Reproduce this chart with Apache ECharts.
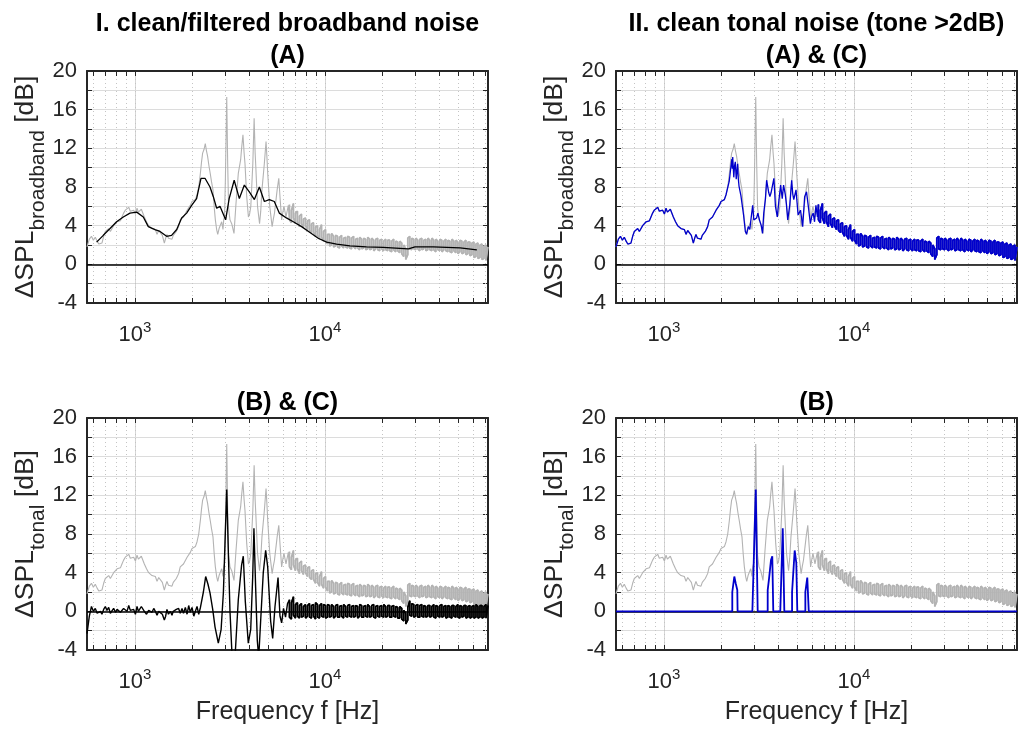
<!DOCTYPE html>
<html><head><meta charset="utf-8">
<script src="https://cdn.jsdelivr.net/npm/echarts@6/dist/echarts.min.js"></script>
<style>html,body{margin:0;padding:0;background:#fff}#c{width:1019px;height:729px}</style>
</head><body><div id="c"></div>
<script>
// ---------------- data (frequency in Hz, level in dB) ----------------
const xRangeHz = [559, 72100];
const yRange = [-4, 20];
const majorTickHz = [1000, 10000];
const minorTickHz = [600, 700, 800, 900, 2000, 3000, 4000, 5000, 6000, 7000, 8000, 9000,
  20000, 30000, 40000, 50000, 60000, 70000];
const panelTitles = ['I. clean/filtered broadband noise\n(A)', 'II. clean tonal noise (tone >2dB)\n(A) & (C)', '(B) & (C)', '(B)'];
const yNames = ['ΔSPL{sub|broadband} [dB]', 'ΔSPL{sub|broadband} [dB]', 'ΔSPL{sub|tonal} [dB]', 'ΔSPL{sub|tonal} [dB]'];
const xName = 'Frequency f [Hz]';

// low-frequency band (shared frequency grid)
const freqLow = [
  559, 575, 590, 604, 618, 632, 645, 658, 670, 684,
  698, 712, 727, 742, 757, 772, 790, 805, 821, 838,
  854, 871, 889, 908, 927, 945, 965, 984, 1005, 1025,
  1042, 1058, 1080, 1102, 1120, 1150, 1180, 1205, 1229, 1255,
  1280, 1306, 1333, 1360, 1393, 1427, 1450, 1473, 1500, 1534,
  1566, 1590, 1610, 1650, 1697, 1730, 1768, 1800, 1841, 1880,
  1917, 1955, 1996, 2040, 2079, 2121];
const totalLow = [
  1.8, 2.6, 2.9, 2.5, 2.8, 2.4, 2.1, 2.3, 2.2, 2.9,
  3.4, 3.2, 3.7, 3.4, 3.5, 4.0, 3.9, 4.4, 4.6, 4.5,
  4.9, 5.3, 5.6, 5.4, 5.9, 5.5, 5.7, 5.6, 5.2, 5.8,
  5.4, 5.3, 5.7, 5.6, 4.9, 4.4, 4.0, 3.8, 3.7, 3.9,
  3.6, 3.1, 3.5, 3.6, 3.0, 2.2, 2.7, 3.1, 2.7, 2.9,
  2.6, 3.0, 3.1, 3.4, 3.9, 4.6, 4.8, 4.9, 5.1, 5.6,
  5.6, 6.1, 6.5, 6.4, 6.7, 7.2];
const tonalLow = [
  -2.3, -0.5, 0.5, 0.0, 0.3, -0.2, -0.4, 0.0, -0.3, 0.2,
  0.5, 0.1, 0.4, -0.2, 0.0, 0.3, -0.1, 0.2, 0.4, -0.1,
  0.1, 0.3, 0.5, 0.0, 0.6, 0.1, 0.3, 0.2, -0.3, 0.5,
  0.0, -0.2, 0.5, 0.6, 0.0, -0.3, 0.1, 0.0, -0.1, 0.3,
  0.0, -0.4, 0.0, 0.2, -0.3, -0.9, -0.5, 0.2, -0.3, 0.0,
  -0.4, 0.0, 0.1, 0.2, 0.3, -0.2, 0.3, -0.2, 0.4, -0.3,
  0.6, -0.1, 0.4, -0.5, 0.0, 0.5];

// tonal region, total level [Hz, dB]
const totalMid = [
  [2165, 8.0], [2208, 9.4], [2240, 10.6], [2270, 11.5], [2310, 11.9], [2344, 12.5], [2375, 11.8],
  [2410, 11.2], [2450, 10.2], [2489, 9.4], [2530, 8.5], [2573, 7.7], [2610, 6.0], [2648, 4.6],
  [2690, 3.6], [2726, 3.1], [2770, 3.7], [2810, 3.9], [2860, 4.4], [2905, 3.6], [2930, 4.6],
  [2960, 4.9], [2990, 8.7], [3040, 17.3], [3075, 10.4], [3110, 5.8], [3162, 4.6], [3229, 4.2],
  [3320, 3.2], [3401, 6.3], [3497, 9.4], [3597, 10.8], [3640, 12.0], [3700, 13.4], [3750, 11.6],
  [3793, 10.4], [3873, 7.0], [3953, 4.9], [4010, 5.2], [4070, 6.0], [4170, 10.4], [4237, 15.1],
  [4290, 11.5], [4324, 10.1], [4415, 6.0], [4525, 4.2], [4590, 5.5], [4658, 7.7], [4794, 10.4],
  [4895, 12.7], [4950, 11.0], [4996, 9.4], [5120, 6.0], [5270, 3.9], [5350, 4.7], [5422, 5.3],
  [5600, 7.7], [5712, 8.9], [5796, 7.0], [5913, 4.6], [6000, 5.4], [6082, 6.0], [6233, 4.9],
  [6412, 6.1]];
// tonal region, clean broadband level (tones removed)
const broadbandMid = [
  [2163, 7.4], [2205, 8.6], [2250, 10.1], [2277, 10.9], [2290, 9.9], [2300, 11.1], [2330, 9.0],
  [2352, 10.2], [2374, 10.6], [2400, 8.8], [2441, 10.4], [2460, 8.9], [2482, 8.1], [2540, 7.1],
  [2623, 5.1], [2680, 3.4], [2720, 3.1], [2776, 3.9], [2830, 3.6], [2867, 4.6], [2929, 6.1],
  [2970, 4.6], [3020, 4.8], [3073, 4.8], [3120, 5.3], [3180, 4.6], [3250, 4.0], [3300, 3.2],
  [3350, 5.3], [3420, 6.8], [3469, 8.7], [3500, 8.9], [3560, 7.4], [3609, 7.0], [3660, 7.4],
  [3700, 7.2], [3788, 8.9], [3860, 6.0], [3947, 4.9], [4030, 6.7], [4110, 8.2], [4191, 6.8],
  [4260, 8.2], [4350, 7.2], [4410, 6.2], [4480, 4.6], [4590, 6.1], [4700, 8.7], [4760, 7.3],
  [4820, 6.7], [4953, 7.7], [5080, 5.1], [5230, 5.6], [5369, 3.9], [5450, 5.8], [5500, 7.0],
  [5624, 7.5], [5750, 6.0], [5894, 4.2], [6000, 5.0], [6100, 5.3], [6200, 4.4], [6303, 6.1],
  [6420, 4.9]];
// tonal region, tonal component (total minus filtered broadband)
const tonalMid = [
  [2165, -0.3], [2210, 0.4], [2244, 0.3], [2291, 2.0], [2355, 3.6], [2422, 2.8], [2482, 1.9],
  [2565, 0.2], [2637, -1.6], [2745, -3.3], [2839, -1.9], [2920, 2.0], [2976, 7.0], [3040, 12.6],
  [3100, 6.0], [3162, 0.0], [3253, -5.2], [3360, -4.8], [3497, 1.2], [3641, 4.8], [3715, 5.7],
  [3808, 1.0], [3947, -3.3], [4064, -1.9], [4163, 3.5], [4227, 8.6], [4315, 2.5], [4403, -3.0],
  [4478, -4.8], [4585, -1.0], [4733, 4.0], [4872, 6.3], [4994, 4.6], [5175, -1.0], [5305, -2.8],
  [5456, 0.5], [5661, 3.5], [5796, -0.5], [5913, -1.2], [6050, 0.3], [6200, -0.6], [6350, 0.8]];

// high-frequency band: per-bin max / min of the dense spectrum (shared frequency grid)
const freqHigh = [
  6500, 6660, 6824, 6992, 7164, 7340, 7521, 7706, 7896, 8090,
  8289, 8493, 8702, 8916, 9135, 9360, 9590, 9826, 10068, 10316,
  10570, 10830, 11096, 11369, 11649, 11936, 12229, 12530, 12839, 13155,
  13478, 13810, 14150, 14498, 14854, 15220, 15594, 15978, 16371, 16774,
  17186, 17609, 18042, 18486, 18941, 19407, 19884, 20373, 20875, 21388,
  21914, 22453, 23006, 23572, 24151, 24746, 25354, 25978, 26617, 27272,
  27943, 28630, 29335, 30056, 30796, 31553, 32330, 33125, 33940, 34775,
  35630, 36507, 37405, 38325, 39268, 40234, 41224, 42238, 43277, 44341,
  45432, 46550, 47695, 48868, 50070, 51302, 52564, 53857, 55182, 56539,
  57930, 59355, 60816, 62312, 63844, 65415, 67024, 68673, 70362, 72000];
const totalHighMax = [
  6.2, 5.6, 6.3, 5.3, 5.5, 5.0, 5.2, 4.7, 4.8, 4.5,
  4.6, 4.2, 4.3, 3.9, 4.0, 3.6, 4.1, 3.4, 3.6, 3.1,
  3.1, 3.2, 2.9, 3.0, 2.9, 2.8, 3.0, 2.7, 2.8, 2.9,
  2.8, 2.7, 2.9, 2.6, 2.7, 2.8, 2.6, 2.7, 2.6, 2.8,
  2.6, 2.7, 2.5, 2.6, 2.7, 2.5, 2.6, 2.4, 2.6, 2.5,
  2.5, 2.4, 2.6, 2.4, 2.3, 2.4, 2.2, 2.0, 1.6, 2.7,
  2.9, 2.7, 2.6, 2.7, 2.5, 2.6, 2.7, 2.5, 2.6, 2.7,
  2.5, 2.7, 2.5, 2.6, 2.4, 2.6, 2.5, 2.4, 2.6, 2.5,
  2.4, 2.6, 2.4, 2.5, 2.3, 2.5, 2.4, 2.3, 2.5, 2.3,
  2.3, 2.2, 2.3, 2.1, 2.2, 2.0, 2.1, 1.9, 2.0, 1.8];
const totalHighMin = [
  4.6, 4.3, 4.8, 4.2, 4.4, 3.9, 4.2, 3.8, 4.0, 3.6,
  3.5, 3.3, 3.3, 2.9, 3.0, 2.6, 2.8, 2.4, 2.5, 2.1,
  1.9, 2.0, 1.8, 1.9, 1.8, 1.7, 1.9, 1.7, 1.8, 1.7,
  1.7, 1.6, 1.8, 1.6, 1.7, 1.5, 1.6, 1.7, 1.5, 1.6,
  1.5, 1.6, 1.4, 1.6, 1.5, 1.4, 1.6, 1.4, 1.5, 1.4,
  1.4, 1.3, 1.5, 1.3, 1.4, 1.2, 1.1, 0.8, 0.5, 1.0,
  1.6, 1.5, 1.6, 1.5, 1.6, 1.4, 1.5, 1.6, 1.4, 1.5,
  1.5, 1.4, 1.5, 1.3, 1.5, 1.4, 1.3, 1.5, 1.4, 1.3,
  1.3, 1.2, 1.4, 1.2, 1.1, 1.3, 1.1, 1.2, 1.0, 1.1,
  0.9, 1.0, 0.7, 0.8, 0.6, 0.7, 0.5, 0.6, 0.4, 0.5];
const tonalHighMax = [
  1.2, 0.9, 1.5, 0.7, 0.9, 0.6, 0.8, 0.5, 0.7, 0.6,
  0.8, 0.6, 0.7, 0.9, 0.7, 0.6, 0.8, 0.7, 0.6, 0.7,
  0.6, 0.7, 0.5, 0.6, 0.7, 0.5, 0.6, 0.7, 0.5, 0.6,
  0.7, 0.5, 0.6, 0.6, 0.5, 0.7, 0.6, 0.5, 0.6, 0.7,
  0.5, 0.6, 0.7, 0.5, 0.6, 0.5, 0.6, 0.7, 0.5, 0.6,
  0.6, 0.5, 0.6, 0.5, 0.4, 0.5, 0.3, 0.1, -0.2, 0.4,
  1.1, 0.8, 0.7, 0.6, 0.7, 0.6, 0.7, 0.6, 0.5, 0.6,
  0.6, 0.5, 0.7, 0.6, 0.5, 0.6, 0.7, 0.5, 0.6, 0.6,
  0.5, 0.6, 0.6, 0.5, 0.7, 0.6, 0.5, 0.6, 0.6, 0.5,
  0.6, 0.5, 0.6, 0.7, 0.5, 0.6, 0.6, 0.5, 0.7, 0.6];
const tonalHighMin = [
  -0.6, -0.8, -0.4, -0.7, -0.5, -0.7, -0.6, -0.5, -0.7, -0.5,
  -0.6, -0.7, -0.5, -0.8, -0.6, -0.7, -0.5, -0.6, -0.7, -0.6,
  -0.6, -0.5, -0.7, -0.5, -0.6, -0.6, -0.5, -0.7, -0.5, -0.6,
  -0.5, -0.6, -0.6, -0.5, -0.7, -0.5, -0.6, -0.6, -0.5, -0.6,
  -0.6, -0.5, -0.6, -0.7, -0.5, -0.6, -0.5, -0.6, -0.6, -0.5,
  -0.6, -0.6, -0.5, -0.6, -0.7, -0.7, -0.8, -1.0, -1.3, -0.9,
  -0.4, -0.5, -0.6, -0.5, -0.6, -0.6, -0.5, -0.6, -0.6, -0.5,
  -0.6, -0.5, -0.6, -0.7, -0.5, -0.6, -0.6, -0.5, -0.7, -0.6,
  -0.6, -0.7, -0.5, -0.6, -0.6, -0.7, -0.6, -0.5, -0.7, -0.6,
  -0.7, -0.6, -0.7, -0.6, -0.7, -0.6, -0.7, -0.6, -0.7, -0.5];

// filtered (smoothed) broadband level [Hz, dB]
const smoothBroadband = [
  [628, 2.3], [681, 3.0], [739, 3.7], [800, 4.4], [868, 4.9], [941, 5.3], [1021, 5.4], [1106, 4.9],
  [1175, 3.9], [1274, 3.6], [1354, 3.4], [1467, 2.9], [1558, 3.0], [1658, 3.6], [1760, 4.8],
  [1870, 5.3], [1987, 6.1], [2110, 6.8], [2225, 8.9], [2336, 8.9], [2482, 8.0], [2584, 7.0],
  [2690, 5.8], [2801, 6.0], [3000, 4.6], [3131, 6.8], [3327, 8.7], [3542, 6.8], [3763, 8.2],
  [3997, 7.5], [4250, 6.7], [4514, 8.0], [4796, 6.5], [5093, 6.7], [5410, 6.5], [5747, 5.3],
  [6264, 4.8], [6810, 4.4], [7530, 3.9], [8337, 3.3], [9210, 2.7], [10200, 2.3], [11510, 2.1],
  [13530, 1.9], [16540, 1.8], [20250, 1.75], [24800, 1.65], [27500, 1.6], [29760, 1.8],
  [37140, 1.8], [51400, 1.7], [62990, 1.5]];

// clean tones (> 2 dB) [Hz, dB]
const cleanTones = [
  [559, 0], [2288, 0], [2288, 2.0], [2345, 3.6], [2384, 2.9], [2431, 2.2], [2440, 0],
  [2918, 0], [3041, 12.6], [3113, 0],
  [3514, 0], [3514, 2.2], [3573, 3.4], [3657, 5.3], [3715, 5.7], [3760, 0],
  [4093, 0], [4217, 8.6], [4299, 0],
  [4722, 0], [4722, 2.0], [4874, 6.3], [4970, 5.0], [5031, 0],
  [5546, 0], [5546, 2.0], [5677, 3.5], [5750, 3.4], [5780, 0], [72000, 0]];

// ---------------- build ----------------
const lg = v => Math.log10(v);
function check(a, b) { if (a.length !== b.length) console.error('length mismatch', a.length, b.length); }
function zip(fs, vs) { check(fs, vs); return fs.map((f, i) => [lg(f), vs[i]]); }
function logPairs(p) { return p.map(d => [lg(d[0]), d[1]]); }
// dense band: draw max and min of each bin, alternating order so the trace stays continuous
function envelope(fs, hi, lo) {
  check(fs, hi); check(fs, lo);
  const out = [];
  fs.forEach((f, i) => {
    if (i % 2 === 0) { out.push([lg(f), hi[i]], [lg(f), lo[i]]); }
    else { out.push([lg(f), lo[i]], [lg(f), hi[i]]); }
  });
  return out;
}
const totalBand = envelope(freqHigh, totalHighMax, totalHighMin);
const tonalBand = envelope(freqHigh, tonalHighMax, tonalHighMin);
const totalData = zip(freqLow, totalLow).concat(logPairs(totalMid), totalBand);
const broadbandData = zip(freqLow, totalLow).concat(logPairs(broadbandMid), totalBand);
const tonalData = zip(freqLow, tonalLow).concat(logPairs(tonalMid), tonalBand);
const smoothData = logPairs(smoothBroadband);
const toneData = logPairs(cleanTones);

const FONT = '"Liberation Sans", Arial, Helvetica, sans-serif';
const INK = '#262626';
const GRAY = '#b3b3b3';
const BLUE = '#0000cc';
const allTicks = minorTickHz.concat(majorTickHz).map(lg);
const majors = majorTickHz.map(lg);

const grids = [
  { left: 87, top: 71, width: 401, height: 232 },
  { left: 616, top: 71, width: 401, height: 232 },
  { left: 87, top: 418, width: 401, height: 232 },
  { left: 616, top: 418, width: 401, height: 232 }];

const xAxes = [], yAxes = [], series = [];
function lineSeries(xi, yi, data, color, width, z, extra) {
  return Object.assign({ type: 'line', xAxisIndex: xi, yAxisIndex: yi, data: data, symbol: 'none', z: z, silent: true, lineStyle: { color: color, width: width } }, extra || {});
}
grids.forEach((g, i) => {
  const base = { type: 'value', gridIndex: i, min: lg(xRangeHz[0]), max: lg(xRangeHz[1]) };
  const frame = { show: true, onZero: false, lineStyle: { color: INK, width: 2 } };
  const tick = { show: true, inside: true, length: 5, customValues: allTicks, lineStyle: { color: INK, width: 1 } };
  xAxes.push(Object.assign({}, base, {
    position: 'bottom', z: 3, axisLine: frame, axisTick: tick,
    axisLabel: {
      show: true, customValues: majors, formatter: v => '10{sup|' + Math.round(v) + '}',
      margin: 17, color: INK, fontSize: 22, fontFamily: FONT, lineHeight: 30,
      rich: { sup: { fontSize: 15, lineHeight: 15, verticalAlign: 'top', color: INK, fontFamily: FONT } }
    },
    splitLine: { show: true, lineStyle: { color: '#c4c4c4', type: [1, 3], width: 1 } },
    name: i >= 2 ? xName : '', nameLocation: 'middle', nameGap: 50,
    nameTextStyle: { fontSize: 25, color: INK, fontFamily: FONT }
  }));
  xAxes.push(Object.assign({}, base, {
    position: 'bottom', z: 1, axisLine: { show: false, onZero: false },
    axisTick: { show: false, customValues: majors }, axisLabel: { show: false, customValues: majors },
    splitLine: { show: true, lineStyle: { color: '#d6d6d6', width: 1 } }
  }));
  xAxes.push(Object.assign({}, base, {
    position: 'top', z: 3, axisLine: frame, axisTick: tick, axisLabel: { show: false },
    splitLine: { show: false },
    name: panelTitles[i], nameLocation: 'middle', nameGap: -1,
    nameTextStyle: { fontSize: 25, fontWeight: 'bold', color: '#000', fontFamily: FONT, lineHeight: 32 }
  }));
  const ybase = { type: 'value', gridIndex: i, min: yRange[0], max: yRange[1], interval: 2 };
  yAxes.push(Object.assign({}, ybase, {
    position: 'left', z: 2, axisLine: { show: true, onZero: false, lineStyle: { color: INK, width: 2 } },
    axisTick: { show: true, inside: true, length: 5, lineStyle: { color: INK } },
    axisLabel: { formatter: v => (v % 4 === 0 ? String(v) : ''), color: INK, fontSize: 22, fontFamily: FONT, margin: 10, showMinLabel: true, showMaxLabel: true },
    splitLine: { show: true, showMinLine: false, showMaxLine: false, lineStyle: { color: '#dcdcdc', width: 1 } },
    name: yNames[i], nameLocation: 'middle', nameRotate: 90, nameGap: 40,
    nameTextStyle: {
      fontSize: 26.5, color: INK, fontFamily: FONT, lineHeight: 46, verticalAlign: 'middle',
      rich: { sub: { fontSize: 21, lineHeight: 21, verticalAlign: 'bottom', color: INK, fontFamily: FONT } }
    }
  }));
  yAxes.push(Object.assign({}, ybase, {
    position: 'right', z: 2, axisLine: { show: true, onZero: false, lineStyle: { color: INK, width: 2 } },
    axisTick: { show: true, inside: true, length: 5, lineStyle: { color: INK } },
    axisLabel: { show: false }, splitLine: { show: false }
  }));
  const xi = i * 3, yi = i * 2;
  series.push(lineSeries(xi, yi, totalData, GRAY, 1.1, 4, {
    markLine: { silent: true, symbol: 'none', label: { show: false }, lineStyle: { color: '#000', width: 1.5, type: 'solid' }, data: [{ yAxis: 0 }] }
  }));
  series.push(lineSeries(xi, yi, totalBand, GRAY, 1.7, 4));
  if (i === 0) { series.push(lineSeries(xi, yi, smoothData, '#000', 1.3, 5)); }
  if (i === 1) { series.push(lineSeries(xi, yi, broadbandData, BLUE, 1.3, 5)); series.push(lineSeries(xi, yi, totalBand, BLUE, 1.7, 5)); }
  if (i === 2) { series.push(lineSeries(xi, yi, tonalData, '#000', 1.4, 5)); series.push(lineSeries(xi, yi, tonalBand, '#000', 1.6, 5)); }
  if (i === 3) { series.push(lineSeries(xi, yi, toneData, BLUE, 1.8, 5)); }
});

const chart = echarts.init(document.getElementById('c'), null, { renderer: 'canvas' });
chart.setOption({
  animation: false,
  backgroundColor: '#fff',
  grid: grids.map(g => Object.assign({ show: false, containLabel: false }, g)),
  xAxis: xAxes, yAxis: yAxes, series: series
});
</script></body></html>
